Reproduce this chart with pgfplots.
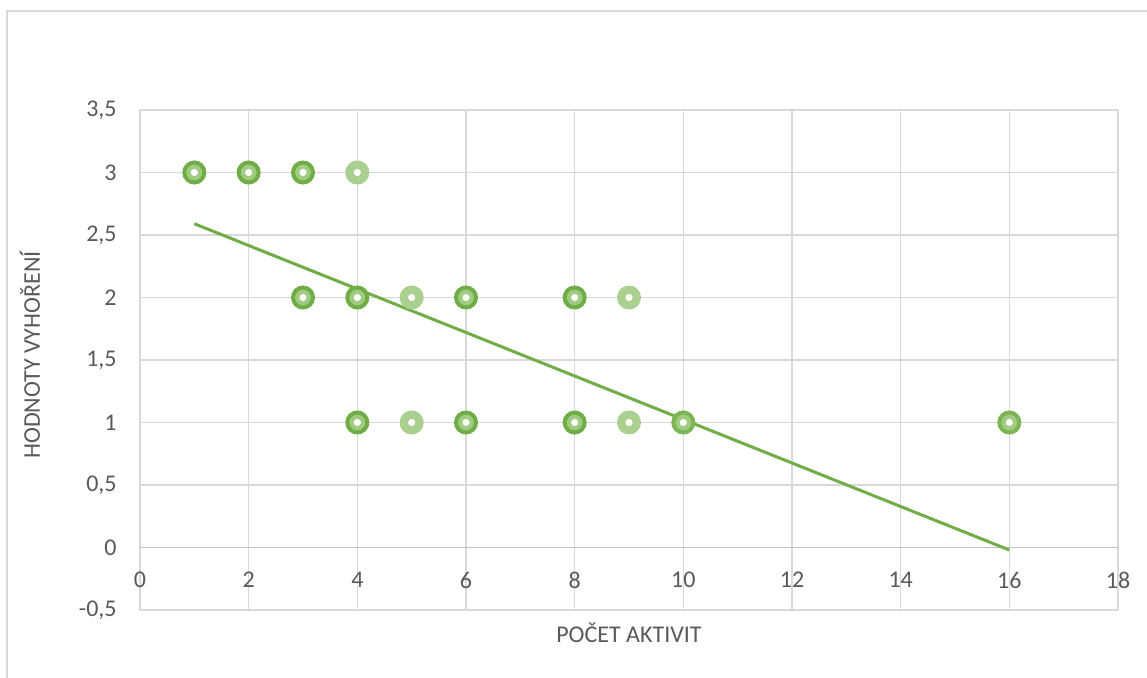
\documentclass[border=0pt]{standalone}
\usepackage{pgfplots}
\pgfplotsset{compat=1.18}
\usepackage{fontspec}
\setmainfont{Carlito}
\definecolor{txt}{HTML}{595959}
\definecolor{gridc}{HTML}{D9D9D9}
\definecolor{zeroc}{HTML}{BFBFBF}
\definecolor{gdark}{HTML}{70AD47}
\definecolor{gmed}{RGB}{124,182,84}
\definecolor{glight}{HTML}{A9D08E}
\definecolor{ginner}{RGB}{160,204,130}
\begin{document}
\begin{tikzpicture}
\path[use as bounding box] (-70pt,-33.5pt) rectangle (503.5pt,305pt);
\fontsize{12pt}{14pt}\selectfont
\begin{axis}[
  scale only axis, width=489pt, height=250pt,
  xmin=0, xmax=18, ymin=-0.5, ymax=3.5,
  xtick={0,2,...,18}, ytick={-0.5,0,...,3.5},
  grid=major, grid style={gridc, line width=0.75pt},
  axis line style={draw=none},
  major tick length=0pt,
  extra y ticks={0}, extra y tick labels={},
  extra y tick style={grid style={zeroc, line width=0.75pt}},
  /pgf/number format/.cd, fixed, use comma, precision=1, assume math mode=true,
  /pgfplots/.cd,
  ticklabel style={font=\fontsize{12pt}{14pt}\selectfont, text=txt},
  xticklabel style={anchor=center, yshift=15pt},
  yticklabel style={xshift=-7.5pt},
  clip=false,
]
\addplot[only marks, mark=*, mark size=5pt, mark options={draw=glight, fill=glight, line width=2pt}]
  coordinates {(4,3) (5,2) (9,2) (5,1) (9,1)};
\addplot[only marks, mark=*, mark size=5pt, mark options={draw=gdark, fill=ginner, line width=2pt}]
  coordinates {(1,3) (2,3) (3,3) (3,2) (4,2) (6,2) (8,2) (4,1) (6,1) (8,1)};
\addplot[only marks, mark=*, mark size=5pt, mark options={draw=gmed, fill=ginner, line width=2pt}]
  coordinates {(10,1) (16,1)};
\addplot[only marks, mark=*, mark size=1.6pt, mark options={draw=white, fill=white, line width=0.3pt}]
  coordinates {(4,3) (5,2) (9,2) (5,1) (9,1) (1,3) (2,3) (3,3) (3,2) (4,2) (6,2) (8,2) (4,1) (6,1) (8,1) (10,1) (16,1)};
\addplot[gdark, line width=1.5pt, no marks] coordinates {(1,2.59) (16,-0.02)};
\end{axis}
\node[text=txt, rotate=90] at (-55pt,127.5pt) {HODNOTY VYHOŘENÍ};
\node[text=txt] at (244.5pt,-11.5pt) {POČET AKTIVIT};
\draw[gridc, line width=0.75pt] (-66.5pt,-40pt) rectangle (510pt,299.5pt);
\end{tikzpicture}
\end{document}
